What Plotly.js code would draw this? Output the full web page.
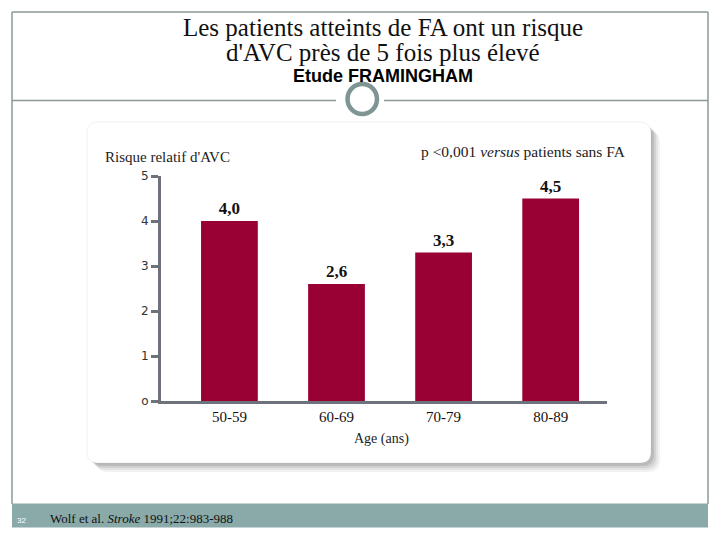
<!DOCTYPE html>
<html>
<head>
<meta charset="utf-8">
<script src="https://cdn.plot.ly/plotly-3.0.1.min.js"></script>
<style>
html,body{margin:0;padding:0;background:#fff;}
#chart{width:720px;height:540px;}
</style>
</head>
<body>
<div id="chart"></div>
<script>
// ---- data ----
const categories = ["50-59", "60-69", "70-79", "80-89"];
const riskValues = [4.0, 2.6, 3.3, 4.5];
const valueLabels = ["4,0", "2,6", "3,3", "4,5"];
const yTickValues = [0, 1, 2, 3, 4, 5];
const yTickLabels = ["o", "1", "2", "3", "4", "5"];

const W = 720, H = 540;
const px = x => x / W;
const py = y => 1 - y / H;

function roundRect(x0, y0, x1, y1, r) {
  const X = v => px(v).toFixed(5), Y = v => py(v).toFixed(5);
  return "M" + X(x0 + r) + "," + Y(y0) +
    " L" + X(x1 - r) + "," + Y(y0) +
    " Q" + X(x1) + "," + Y(y0) + " " + X(x1) + "," + Y(y0 + r) +
    " L" + X(x1) + "," + Y(y1 - r) +
    " Q" + X(x1) + "," + Y(y1) + " " + X(x1 - r) + "," + Y(y1) +
    " L" + X(x0 + r) + "," + Y(y1) +
    " Q" + X(x0) + "," + Y(y1) + " " + X(x0) + "," + Y(y1 - r) +
    " L" + X(x0) + "," + Y(y0 + r) +
    " Q" + X(x0) + "," + Y(y0) + " " + X(x0 + r) + "," + Y(y0) + " Z";
}

const frameCol = "#8c9898";
const shapes = [];
// card shadow (layered)
[[9, 0.05], [7, 0.06], [5, 0.08], [3, 0.10]].forEach(([o, a]) => {
  shapes.push({type: "path", xref: "paper", yref: "paper", layer: "below",
    path: roundRect(87 + o, 122 + o, 651 + o, 463 + o, 12),
    fillcolor: "rgba(0,0,0," + a + ")", line: {width: 0}});
});
// card
shapes.push({type: "path", xref: "paper", yref: "paper", layer: "below",
  path: roundRect(87, 122, 651, 463, 11),
  fillcolor: "#ffffff", line: {color: "rgba(0,0,0,0.06)", width: 1}});
// outer frame lines
shapes.push({type: "line", xref: "paper", yref: "paper", x0: px(12), x1: px(708), y0: py(12), y1: py(12), line: {color: frameCol, width: 1.5}});
shapes.push({type: "line", xref: "paper", yref: "paper", x0: px(12), x1: px(12), y0: py(12), y1: py(504), line: {color: frameCol, width: 1.5}});
shapes.push({type: "line", xref: "paper", yref: "paper", x0: px(708), x1: px(708), y0: py(12), y1: py(504), line: {color: frameCol, width: 1.5}});
// divider with ring
shapes.push({type: "line", xref: "paper", yref: "paper", x0: px(12), x1: px(336), y0: py(100.5), y1: py(100.5), line: {color: frameCol, width: 1.5}});
shapes.push({type: "line", xref: "paper", yref: "paper", x0: px(384), x1: px(708), y0: py(100.5), y1: py(100.5), line: {color: frameCol, width: 1.5}});
shapes.push({type: "circle", xref: "paper", yref: "paper", x0: px(347.5), x1: px(377), y0: py(84), y1: py(114),
  fillcolor: "rgba(0,0,0,0)", line: {color: "#7f9595", width: 4.5}});
// footer band
shapes.push({type: "rect", xref: "paper", yref: "paper", x0: px(12), x1: px(708), y0: py(503.5), y1: py(527.5),
  fillcolor: "#8aaaa9", line: {width: 0}});

const serif = "Liberation Serif, DejaVu Serif, serif";
const annotations = [
  {text: "Les patients atteints de FA ont un risque", x: px(383), y: py(27), font: {family: serif, size: 25, color: "#111"}},
  {text: "d'AVC près de 5 fois plus élevé", x: px(383), y: py(52), font: {family: serif, size: 25, color: "#111"}},
  {text: "<b>Etude FRAMINGHAM</b>", x: px(383), y: py(76), font: {family: "Liberation Sans, Arial, sans-serif", size: 18, color: "#000"}},
  {text: "Risque relatif d'AVC", x: px(103), y: py(157), xanchor: "left", font: {family: serif, size: 15, color: "#222"}},
  {text: "p <0,001 <i>versus</i> patients sans FA", x: px(628), y: py(152), xanchor: "right", font: {family: serif, size: 15.5, color: "#222"}},
  {text: "Age (ans)", x: px(381), y: py(439), font: {family: serif, size: 14, color: "#222"}},
  {text: "Wolf et al. <i>Stroke</i> 1991;22:983-988", x: px(48), y: py(518), xanchor: "left", font: {family: serif, size: 13, color: "#111"}},
  {text: "32", x: px(15), y: py(520), xanchor: "left", font: {family: "Liberation Sans, Arial, sans-serif", size: 8, color: "#ffffff"}}
].map(a => Object.assign({xref: "paper", yref: "paper", showarrow: false, xanchor: "center", yanchor: "middle"}, a));

const axisCol = "#6e727a";
const trace = {
  type: "bar",
  x: categories,
  y: riskValues,
  text: valueLabels,
  textposition: "outside",
  cliponaxis: false,
  textfont: {family: serif, size: 17, color: "#111", weight: "bold"},
  marker: {color: "#990033", line: {width: 0}},
  width: 0.53,
  hoverinfo: "none"
};

const layout = {
  width: W, height: H,
  margin: {l: 0, r: 0, t: 0, b: 0},
  paper_bgcolor: "rgba(0,0,0,0)",
  plot_bgcolor: "rgba(0,0,0,0)",
  showlegend: false,
  xaxis: {
    domain: [px(161), px(607)],
    range: [-0.639, 3.526],
    type: "category",
    showline: true, linecolor: axisCol, linewidth: 3,
    ticks: "", showgrid: false, zeroline: false,
    tickfont: {family: serif, size: 15, color: "#111"},
    ticklabelstandoff: 0,
    fixedrange: true
  },
  yaxis: {
    domain: [1 - 401 / H, 1 - 176 / H],
    range: [0, 5],
    tickvals: yTickValues,
    ticktext: yTickLabels,
    showline: true, linecolor: axisCol, linewidth: 3,
    ticks: "outside", ticklen: 7, tickwidth: 3, tickcolor: axisCol,
    showgrid: false, zeroline: false,
    tickfont: {family: "DejaVu Sans, sans-serif", size: 12, color: "#333"},
    fixedrange: true
  },
  shapes: shapes,
  annotations: annotations
};

Plotly.newPlot("chart", [trace], layout, {displayModeBar: false, staticPlot: true});
</script>
</body>
</html>
